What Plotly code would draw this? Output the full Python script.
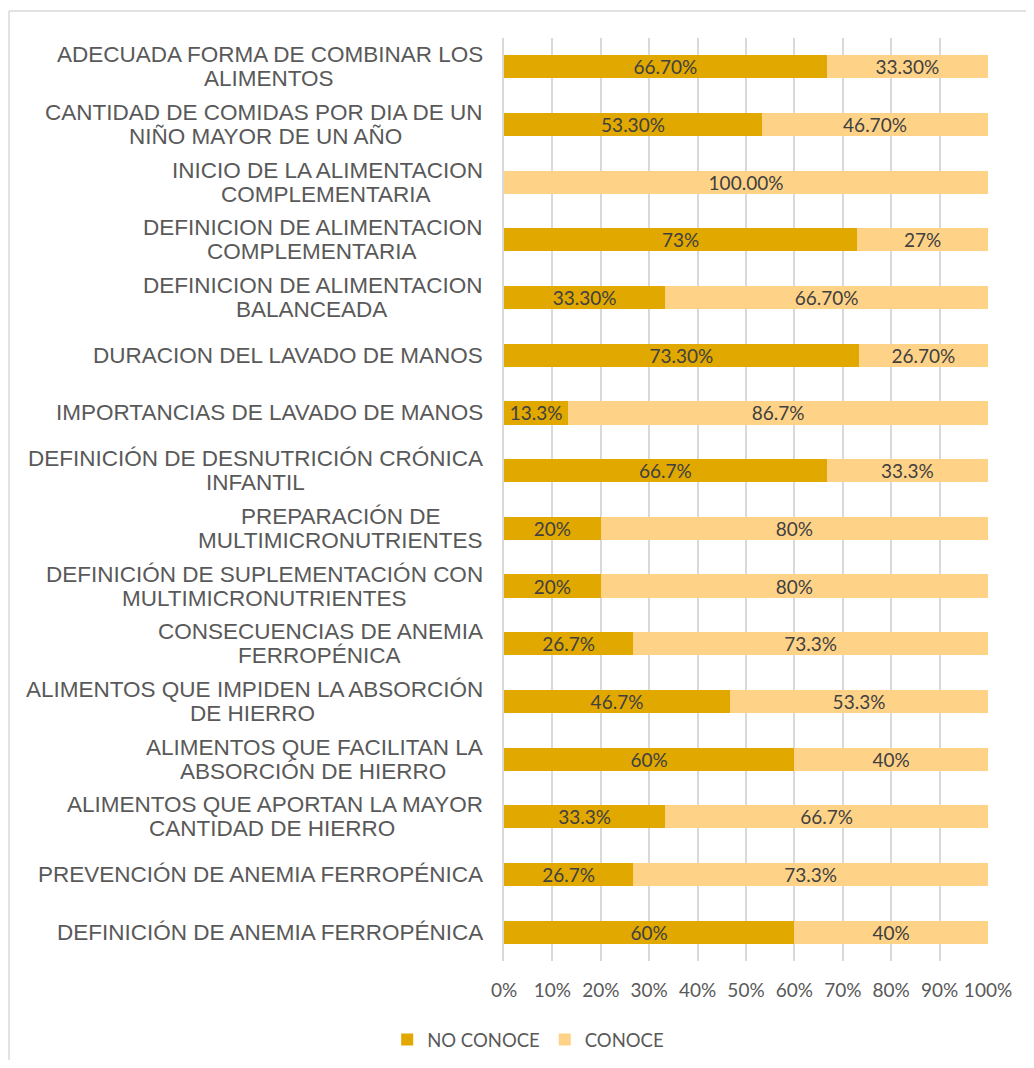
import plotly.graph_objects as go

categories = [
    "ADECUADA FORMA DE COMBINAR LOS<br>ALIMENTOS",
    "CANTIDAD DE COMIDAS POR DIA DE UN<br>NIÑO MAYOR DE UN AÑO",
    "INICIO DE LA ALIMENTACION<br>COMPLEMENTARIA",
    "DEFINICION DE ALIMENTACION<br>COMPLEMENTARIA",
    "DEFINICION DE ALIMENTACION<br>BALANCEADA",
    "DURACION DEL LAVADO DE MANOS",
    "IMPORTANCIAS DE LAVADO DE MANOS",
    "DEFINICIÓN DE DESNUTRICIÓN CRÓNICA<br>INFANTIL",
    "PREPARACIÓN DE<br>MULTIMICRONUTRIENTES",
    "DEFINICIÓN DE SUPLEMENTACIÓN CON<br>MULTIMICRONUTRIENTES",
    "CONSECUENCIAS DE ANEMIA<br>FERROPÉNICA",
    "ALIMENTOS QUE IMPIDEN LA ABSORCIÓN<br>DE HIERRO",
    "ALIMENTOS QUE FACILITAN LA<br>ABSORCIÓN DE HIERRO",
    "ALIMENTOS QUE APORTAN LA MAYOR<br>CANTIDAD DE HIERRO",
    "PREVENCIÓN DE ANEMIA FERROPÉNICA",
    "DEFINICIÓN DE ANEMIA FERROPÉNICA",
]

no_conoce = [66.7, 53.3, 0, 73, 33.3, 73.3, 13.3, 66.7, 20, 20, 26.7, 46.7, 60, 33.3, 26.7, 60]
conoce = [33.3, 46.7, 100, 27, 66.7, 26.7, 86.7, 33.3, 80, 80, 73.3, 53.3, 40, 66.7, 73.3, 40]

no_conoce_labels = ["66.70%", "53.30%", "", "73%", "33.30%", "73.30%", "13.3%", "66.7%",
                    "20%", "20%", "26.7%", "46.7%", "60%", "33.3%", "26.7%", "60%"]
conoce_labels = ["33.30%", "46.70%", "100.00%", "27%", "66.70%", "26.70%", "86.7%", "33.3%",
                 "80%", "80%", "73.3%", "53.3%", "40%", "66.7%", "73.3%", "40%"]

tick_vals = [0, 10, 20, 30, 40, 50, 60, 70, 80, 90, 100]
tick_text = ["0%", "10%", "20%", "30%", "40%", "50%", "60%", "70%", "80%", "90%", "100%"]

DARK = "#E1A800"
LIGHT = "#FFD387"
CAL = "Lato, 'Open Sans', sans-serif"
LABEL_FONT = dict(family=CAL, size=19, color="#404040")
CAT_SIZE = 22.5

# Arial / Liberation Sans advance widths (per 1000 em) for centring the label lines
_W = dict(A=667, B=667, C=722, D=722, E=667, F=611, G=778, H=722, I=278, J=500, K=667,
          L=556, M=833, N=722, O=778, P=667, Q=778, R=722, S=667, T=611, U=722, V=667,
          W=944, X=667, Y=667, Z=611)
_W[" "] = 278
_ACC = {"Ñ": "N", "Ó": "O", "É": "E", "Á": "A", "Í": "I", "Ú": "U"}


def text_width(s, size):
    return sum(_W.get(_ACC.get(ch, ch), 667) for ch in s) * size / 1000.0


fig = go.Figure()
fig.add_trace(go.Bar(
    y=categories, x=no_conoce, orientation="h", name="NO CONOCE",
    marker=dict(color=DARK, line=dict(width=0)),
    text=no_conoce_labels, textposition="inside", insidetextanchor="middle",
    textangle=0, constraintext="none", textfont=LABEL_FONT,
))
fig.add_trace(go.Bar(
    y=categories, x=conoce, orientation="h", name="CONOCE",
    marker=dict(color=LIGHT, line=dict(width=0)),
    text=conoce_labels, textposition="inside", insidetextanchor="middle",
    textangle=0, constraintext="none", textfont=LABEL_FONT,
))

annotations = []
for c in categories:
    lines = c.split("<br>")
    widths = [text_width(l, CAT_SIZE) for l in lines]
    maxw = max(widths)
    n = len(lines)
    for i, (l, w) in enumerate(zip(lines, widths)):
        yshift = ((n - 1) / 2.0 - i) * 24
        annotations.append(dict(
            x=0, xref="paper", y=c, yref="y", xanchor="right", yanchor="middle",
            xshift=-19 - (maxw - w) / 2.0, yshift=yshift,
            text=l, showarrow=False,
            font=dict(family="Liberation Sans, Arial, sans-serif", size=CAT_SIZE, color="#595959"),
        ))

shapes = [
    dict(type="line", xref="paper", yref="paper", x0=-1.0227, x1=1.2, y0=1.0293, y1=1.0293,
         line=dict(color="#D9D9D9", width=1.5)),
    dict(type="line", xref="paper", yref="paper", x0=-1.0227, x1=-1.0227, y0=1.0293, y1=-0.2,
         line=dict(color="#D9D9D9", width=1.5)),
]

fig.update_layout(
    width=1018, height=1052,
    barmode="stack", bargap=0.6,
    paper_bgcolor="white", plot_bgcolor="white",
    margin=dict(l=496, r=38, t=30, b=99, autoexpand=False),
    annotations=annotations, shapes=shapes,
    legend=dict(orientation="h", x=0.05, xanchor="center", y=-0.0856, yanchor="middle",
                font=dict(family=CAL, size=18.5, color="#595959"),
                itemwidth=30, traceorder="normal"),
    xaxis=dict(range=[0, 100], tickvals=tick_vals, ticktext=tick_text,
               showgrid=True, gridcolor="#D9D9D9", gridwidth=1.5, zeroline=False,
               showline=False, ticks="", ticklabelstandoff=16, automargin=False,
               tickfont=dict(family=CAL, size=19, color="#595959")),
    yaxis=dict(autorange="reversed", showticklabels=False, showgrid=False, automargin=False,
               showline=True, linecolor="#D9D9D9", linewidth=1.5, ticks=""),
)

fig.write_html("out.html")
